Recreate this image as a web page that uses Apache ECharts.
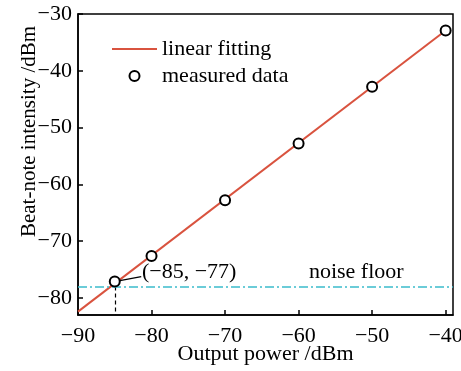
<!DOCTYPE html>
<html>
<head>
<meta charset="utf-8">
<script src="https://cdn.jsdelivr.net/npm/echarts@6/dist/echarts.min.js"></script>
<style>
  html, body { margin: 0; padding: 0; background: #fff; }
  #main { width: 461px; height: 371px; }
</style>
</head>
<body>
<div id="main"></div>
<script>
// measured points
var powerX = [-85, -80, -70, -60, -50, -40];
var measuredY = [-77.1, -72.6, -62.8, -52.8, -42.8, -32.9];
// linear fit end points
var fitX = [-90, -40];
var fitY = [-82.4, -32.9];
var noiseFloor = -78;
var xTicks = [-90, -80, -70, -60, -50, -40];
var yTicks = [-80, -70, -60, -50, -40, -30];

var font = 'Liberation Serif';
var red = '#d9533f';
var cyan = '#3bbccc';

function minus(v) {
  return String(v).replace('-', '\u2212');
}

var myChart = echarts.init(document.getElementById('main'));

var measured = [];
for (var i = 0; i < powerX.length; i++) {
  measured.push([powerX[i], measuredY[i]]);
}
var fit = [];
for (var i = 0; i < fitX.length; i++) {
  fit.push([fitX[i], fitY[i]]);
}

var option = {
  animation: false,
  textStyle: { fontFamily: font, color: '#000' },
  grid: {
    left: 78, right: 8, top: 14, bottom: 56,
    outerBoundsMode: 'none',
    containLabel: false,
    show: true, borderColor: '#000', borderWidth: 1.5
  },
  legend: {
    left: 112, top: 38, padding: 0,
    orient: 'vertical',
    itemWidth: 45, itemHeight: 10, itemGap: 5,
    textStyle: { fontFamily: font, fontSize: 22, color: '#000', lineHeight: 20 },
    data: [
      { name: 'linear fitting', icon: 'path://M0,0 L45,0 L45,2 L0,2 Z', itemStyle: { color: red } },
      { name: 'measured data', icon: 'emptyCircle', itemStyle: { color: '#000', borderColor: '#000', borderWidth: 2 } }
    ]
  },
  xAxis: {
    type: 'value',
    min: -90, max: -39,
    name: 'Output power /dBm',
    nameLocation: 'middle',
    nameGap: 28,
    nameMoveOverlap: false,
    nameTextStyle: { fontFamily: font, fontSize: 22, color: '#000' },
    splitLine: { show: false },
    axisLine: { lineStyle: { color: '#000', width: 1.5 } },
    axisTick: { inside: true, length: 5, customValues: xTicks, lineStyle: { color: '#000', width: 1.5 } },
    axisLabel: {
      customValues: xTicks, margin: 10,
      fontFamily: font, fontSize: 22, color: '#000',
      formatter: minus
    }
  },
  yAxis: {
    type: 'value',
    min: -83, max: -30,
    name: 'Beat-note intensity /dBm',
    nameLocation: 'middle',
    nameGap: 38,
    nameMoveOverlap: false,
    nameRotate: 90,
    nameTextStyle: { fontFamily: font, fontSize: 21, color: '#000', padding: [0, 0, 0, 66] },
    splitLine: { show: false },
    axisLine: { lineStyle: { color: '#000', width: 1.5 } },
    axisTick: { inside: true, length: 5, customValues: yTicks, lineStyle: { color: '#000', width: 1.5 } },
    axisLabel: {
      customValues: yTicks, margin: 6,
      fontFamily: font, fontSize: 22, color: '#000',
      formatter: minus
    }
  },
  series: [
    {
      name: 'linear fitting',
      type: 'line',
      data: fit,
      showSymbol: false,
      symbol: 'none',
      color: red,
      lineStyle: { color: red, width: 2 },
      z: 3,
      markLine: {
        silent: true,
        symbol: 'none',
        label: { show: false },
        data: [
          [{ coord: [-85, -78] }, { coord: [-85, -83] }]
        ],
        lineStyle: { color: '#000', type: [4, 3], width: 1.2 }
      }
    },
    {
      name: 'noise floor',
      type: 'line',
      data: [],
      markLine: {
        silent: true,
        symbol: 'none',
        label: { show: false },
        lineStyle: { color: cyan, width: 1.5, type: [9, 3, 2, 3] },
        data: [{ yAxis: noiseFloor }]
      },
      markPoint: {
        silent: true,
        symbolSize: 0,
        data: [
          { coord: [-81.3, -75.4], value: '(\u221285, \u221277)' },
          { coord: [-58.6, -75.4], value: 'noise floor' }
        ],
        label: {
          show: true, position: 'right', distance: 0,
          fontFamily: font, fontSize: 22, color: '#000',
          formatter: function (p) { return p.value; }
        }
      }
    },
    {
      name: 'measured data',
      type: 'scatter',
      data: measured,
      symbol: 'emptyCircle',
      symbolSize: 10,
      color: '#000',
      itemStyle: { color: '#000', borderWidth: 2, opacity: 1 },
      z: 5,
      markLine: {
        silent: true,
        symbol: ['none', 'arrow'],
        symbolSize: [0, 7],
        label: { show: false },
        lineStyle: { color: '#000', width: 1.2, type: 'solid' },
        data: [
          [{ coord: [-81.4, -76.25] }, { coord: [-84.3, -76.95] }]
        ]
      }
    }
  ]
};

option && myChart.setOption(option);
</script>
</body>
</html>
